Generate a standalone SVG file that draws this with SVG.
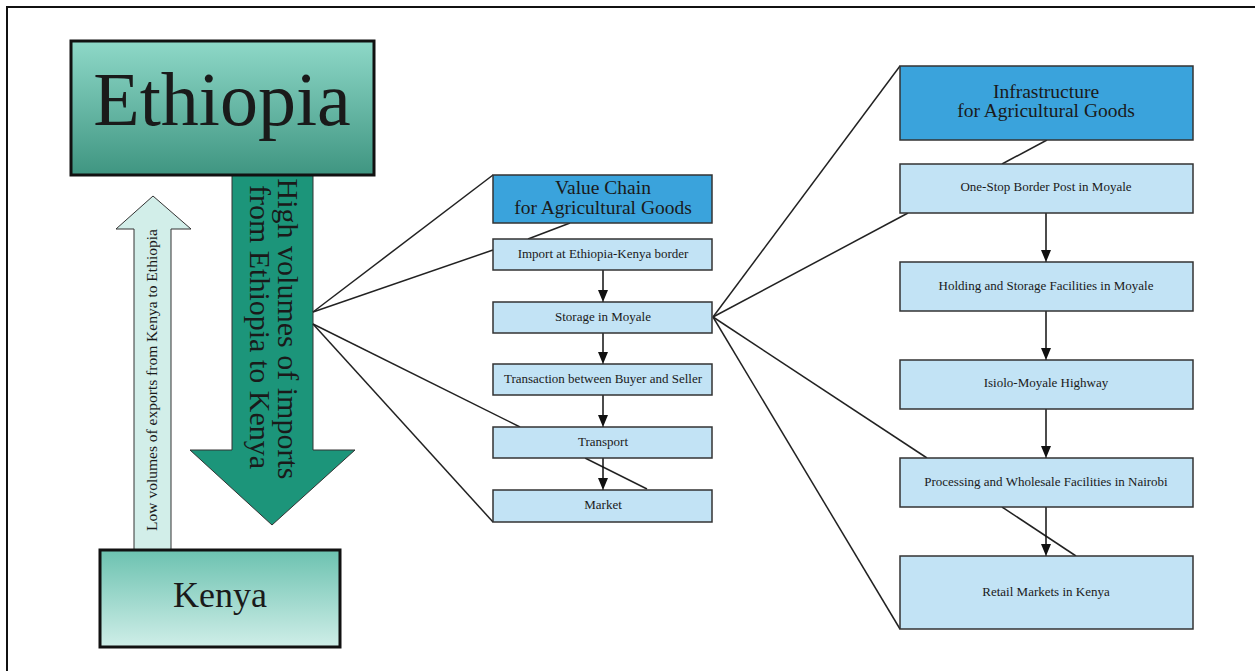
<svg xmlns="http://www.w3.org/2000/svg" width="1255" height="671" viewBox="0 0 1255 671">
<defs>
<linearGradient id="gEth" x1="0" y1="0" x2="0" y2="1">
<stop offset="0" stop-color="#8ed8c8"/>
<stop offset="1" stop-color="#3f9581"/>
</linearGradient>
<linearGradient id="gKen" x1="0" y1="0" x2="0" y2="1">
<stop offset="0" stop-color="#6cc2b0"/>
<stop offset="1" stop-color="#cfeee8"/>
</linearGradient>
<marker id="ah" markerUnits="userSpaceOnUse" markerWidth="10" markerHeight="12" refX="12" refY="5" orient="auto">
<path d="M0,0 L12,5 L0,10 z" fill="#111"/>
</marker>
<style>
text{font-family:"Liberation Serif","Times New Roman",serif;fill:#1a1a1a}
.big{stroke:#111;stroke-width:3}
.box{fill:#c2e3f5;stroke:#333;stroke-width:1.5}
.hdr{fill:#3aa3dc;stroke:#333;stroke-width:1.5}
.t13{font-size:13px;text-anchor:middle}
.t19{font-size:19.5px;text-anchor:middle}
.ln{stroke:#222;stroke-width:1.5;fill:none}
.ar{stroke:#111;stroke-width:1.5;fill:none;marker-end:url(#ah)}
</style>
</defs>
<rect x="0" y="0" width="1255" height="671" fill="#fff"/>
<rect x="7" y="7" width="1270" height="690" fill="none" stroke="#111" stroke-width="2"/>

<g id="arrow-imports">
<polygon points="232,175 313,175 313,450 355,450 272,525 190,450 232,450" fill="#1c957a" stroke="#333" stroke-width="1"/>
<text transform="translate(278,329) rotate(90)" font-size="30" text-anchor="middle">High volumes of imports</text>
<text transform="translate(250,327) rotate(90)" font-size="30" text-anchor="middle">from Ethiopia to Kenya</text>
</g>
<g id="arrow-exports">
<polygon points="134,550 134,229 116,229 153,196 191,229 171,229 171,550" fill="#d2eee9" stroke="#333" stroke-width="1"/>
<text transform="translate(157,380) rotate(-90)" font-size="15.5" text-anchor="middle">Low volumes of exports from Kenya to Ethiopia</text>
</g>
<g id="ethiopia">
<rect class="big" x="71" y="41" width="303" height="134" fill="url(#gEth)"/>
<text x="222" y="125" font-size="76" text-anchor="middle">Ethiopia</text>
</g>
<g id="kenya">
<rect class="big" x="100" y="550" width="240" height="97" fill="url(#gKen)"/>
<text x="220" y="607" font-size="36" text-anchor="middle">Kenya</text>
</g>

<g id="connectors">
<line class="ln" x1="313" y1="312" x2="493" y2="175"/>
<line class="ln" x1="313" y1="312" x2="493" y2="250"/>
<line class="ln" x1="313" y1="324" x2="520" y2="427"/>
<line class="ln" x1="313" y1="324" x2="493" y2="522"/>
<line class="ln" x1="570" y1="223" x2="528" y2="239"/>
<line class="ln" x1="585" y1="458" x2="647" y2="489"/>
<line class="ln" x1="713" y1="317" x2="900" y2="66"/>
<line class="ln" x1="713" y1="317" x2="908" y2="213"/>
<line class="ln" x1="713" y1="317" x2="927" y2="458"/>
<line class="ln" x1="713" y1="317" x2="900" y2="629"/>
<line class="ln" x1="1047" y1="140" x2="1002" y2="164"/>
<line class="ln" x1="1002" y1="507" x2="1076" y2="556"/>
<line class="ar" x1="603" y1="270" x2="603" y2="302"/>
<line class="ar" x1="603" y1="333" x2="603" y2="364"/>
<line class="ar" x1="603" y1="395" x2="603" y2="427"/>
<line class="ar" x1="603" y1="458" x2="603" y2="490"/>
<line class="ar" x1="1046" y1="213" x2="1046" y2="262"/>
<line class="ar" x1="1046" y1="311" x2="1046" y2="360"/>
<line class="ar" x1="1046" y1="409" x2="1046" y2="458"/>
<line class="ar" x1="1046" y1="507" x2="1046" y2="556"/>
</g>

<g id="vc-header">
<rect class="hdr" x="493" y="175" width="219" height="48"/>
<text class="t19" x="603" y="194">Value Chain</text>
<text class="t19" x="603" y="214">for Agricultural Goods</text>
</g>
<g id="vc-import">
<rect class="box" x="493" y="239" width="219" height="31"/>
<text class="t13" x="603" y="258">Import at Ethiopia-Kenya border</text>
</g>
<g id="vc-storage">
<rect class="box" x="493" y="302" width="219" height="31"/>
<text class="t13" x="603" y="321">Storage in Moyale</text>
</g>
<g id="vc-transaction">
<rect class="box" x="493" y="364" width="219" height="31"/>
<text class="t13" x="603" y="383">Transaction between Buyer and Seller</text>
</g>
<g id="vc-transport">
<rect class="box" x="493" y="427" width="219" height="31"/>
<text class="t13" x="603" y="446">Transport</text>
</g>
<g id="vc-market">
<rect class="box" x="493" y="490" width="219" height="32"/>
<text class="t13" x="603" y="509">Market</text>
</g>

<g id="inf-header">
<rect class="hdr" x="900" y="66" width="293" height="74"/>
<text class="t19" x="1046" y="98">Infrastructure</text>
<text class="t19" x="1046" y="117">for Agricultural Goods</text>
</g>
<g id="inf-osbp">
<rect class="box" x="900" y="164" width="293" height="49"/>
<text class="t13" x="1046" y="191">One-Stop Border Post in Moyale</text>
</g>
<g id="inf-holding">
<rect class="box" x="900" y="262" width="293" height="49"/>
<text class="t13" x="1046" y="290">Holding and Storage Facilities in Moyale</text>
</g>
<g id="inf-highway">
<rect class="box" x="900" y="360" width="293" height="49"/>
<text class="t13" x="1046" y="387">Isiolo-Moyale Highway</text>
</g>
<g id="inf-processing">
<rect class="box" x="900" y="458" width="293" height="49"/>
<text class="t13" x="1046" y="486">Processing and Wholesale Facilities in Nairobi</text>
</g>
<g id="inf-retail">
<rect class="box" x="900" y="556" width="293" height="73"/>
<text class="t13" x="1046" y="596">Retail Markets in Kenya</text>
</g>
</svg>
